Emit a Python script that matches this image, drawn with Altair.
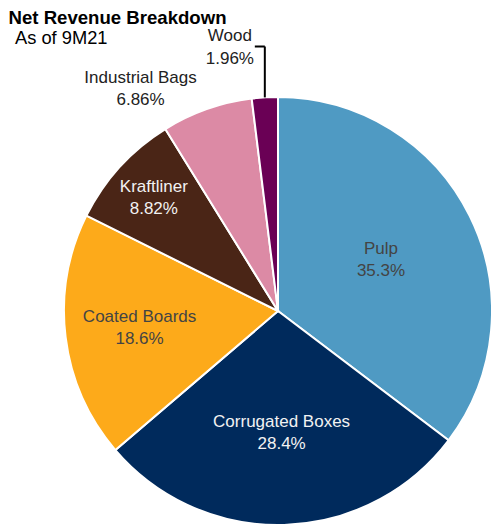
import math
import altair as alt
import pandas as pd

# ---- data ----
CATEGORIES = ["Pulp", "Corrugated Boxes", "Coated Boards", "Kraftliner", "Industrial Bags", "Wood"]
SHARES = [35.3, 28.4, 18.6, 8.82, 6.86, 1.96]
SHARE_LABELS = ["35.3%", "28.4%", "18.6%", "8.82%", "6.86%", "1.96%"]
TITLE = "Net Revenue Breakdown"
SUBTITLE = "As of 9M21"

# ---- styles ----
SLICE_COLORS = ["#4f9ac3", "#002a5c", "#fdaa1a", "#4a2516", "#dc8aa5", "#6a0055"]
TEXT_COLORS = ["#444444", "#f2f2f2", "#444444", "#f2f2f2", "#222222", "#222222"]
LABEL_RADIUS = [115, 122, 139.5, 168, 230, 230]
INSIDE = [True, True, True, True, False, False]

CX, CY, R = 278, 311, 214
W, H = 491, 525
FONT = "Liberation Sans"
LH = 22.6
UP = -LH / 2  # centre two-line labels on their anchor

total = sum(SHARES)
starts, ends, mids = [], [], []
acc = 0.0
for v in SHARES:
    starts.append(acc)
    ends.append(acc + v)
    mids.append(acc + v / 2)
    acc += v

df = pd.DataFrame({
    "category": CATEGORIES,
    "share": SHARES,
    "label": [f"{c}\n{s}" for c, s in zip(CATEGORIES, SHARE_LABELS)],
    "start": starts,
    "end": ends,
    "mid": mids,
    "tcolor": TEXT_COLORS,
    "lr": LABEL_RADIUS,
    "inside": INSIDE,
})

theta_scale = alt.Scale(domain=[0, total], range=[0, 2 * math.pi])
base = alt.Chart(df)

arcs = base.mark_arc(radius=R, stroke="white", strokeWidth=2).encode(
    theta=alt.Theta("start:Q", scale=theta_scale),
    theta2="end:Q",
    color=alt.Color("category:N",
                    scale=alt.Scale(domain=CATEGORIES, range=SLICE_COLORS),
                    legend=None),
    x=alt.value(CX),
    y=alt.value(CY),
)

text_common = dict(font=FONT, fontSize=17, lineBreak="\n", lineHeight=LH,
                   align="center", baseline="middle")
text_enc = dict(
    theta=alt.Theta("mid:Q", scale=theta_scale),
    radius=alt.Radius("lr:Q", scale=None),
    text="label:N",
    color=alt.Color("tcolor:N", scale=None),
    x=alt.value(CX),
    y=alt.value(CY),
)

inside_text = base.transform_filter("datum.inside").mark_text(
    dy=UP, **text_common
).encode(**text_enc)

bags_text = base.transform_filter("datum.category == 'Industrial Bags'").mark_text(
    dx=-61, dy=-5 + UP, **text_common
).encode(**text_enc)

wood_text = base.transform_filter("datum.category == 'Wood'").mark_text(
    dx=-34, dy=-34 + UP, **text_common
).encode(**text_enc)

# leader line for Wood, starting at the slice's outer edge
leader_base = base.transform_filter("datum.category == 'Wood'").transform_calculate(
    lx=f"{CX} + {R} * sin(2 * PI * datum.mid / {total})",
    ly=f"{CY} - {R} * cos(2 * PI * datum.mid / {total})",
    ly2="46.5",
).transform_calculate(
    lx2="datum.lx - 10",
)
leader_v = leader_base.mark_rule(color="black", strokeWidth=2).encode(
    x=alt.X("lx:Q", scale=None),
    y=alt.Y("ly:Q", scale=None),
    y2="ly2:Q",
)
leader_h = leader_base.mark_rule(color="black", strokeWidth=2).encode(
    x=alt.X("lx:Q", scale=None),
    x2="lx2:Q",
    y=alt.Y("ly2:Q", scale=None),
)

title_df = pd.DataFrame({"t": [TITLE]})
sub_df = pd.DataFrame({"t": [SUBTITLE]})
title = alt.Chart(title_df).mark_text(
    font=FONT, fontSize=18.6, fontWeight="bold", align="left", baseline="alphabetic", color="black"
).encode(text="t:N", x=alt.value(8.5), y=alt.value(23.5))
subtitle = alt.Chart(sub_df).mark_text(
    font=FONT, fontSize=18.3, align="left", baseline="alphabetic", color="black"
).encode(text="t:N", x=alt.value(15), y=alt.value(43.5))

chart = alt.layer(
    arcs, inside_text, bags_text, wood_text, leader_v, leader_h, title, subtitle
).resolve_scale(color="independent").properties(
    width=W, height=H, autosize=alt.AutoSizeParams(type="none"), padding=0,
    background="white",
).configure_view(stroke=None)

chart.save("out.html", embed_options={"renderer": "svg", "actions": False})
